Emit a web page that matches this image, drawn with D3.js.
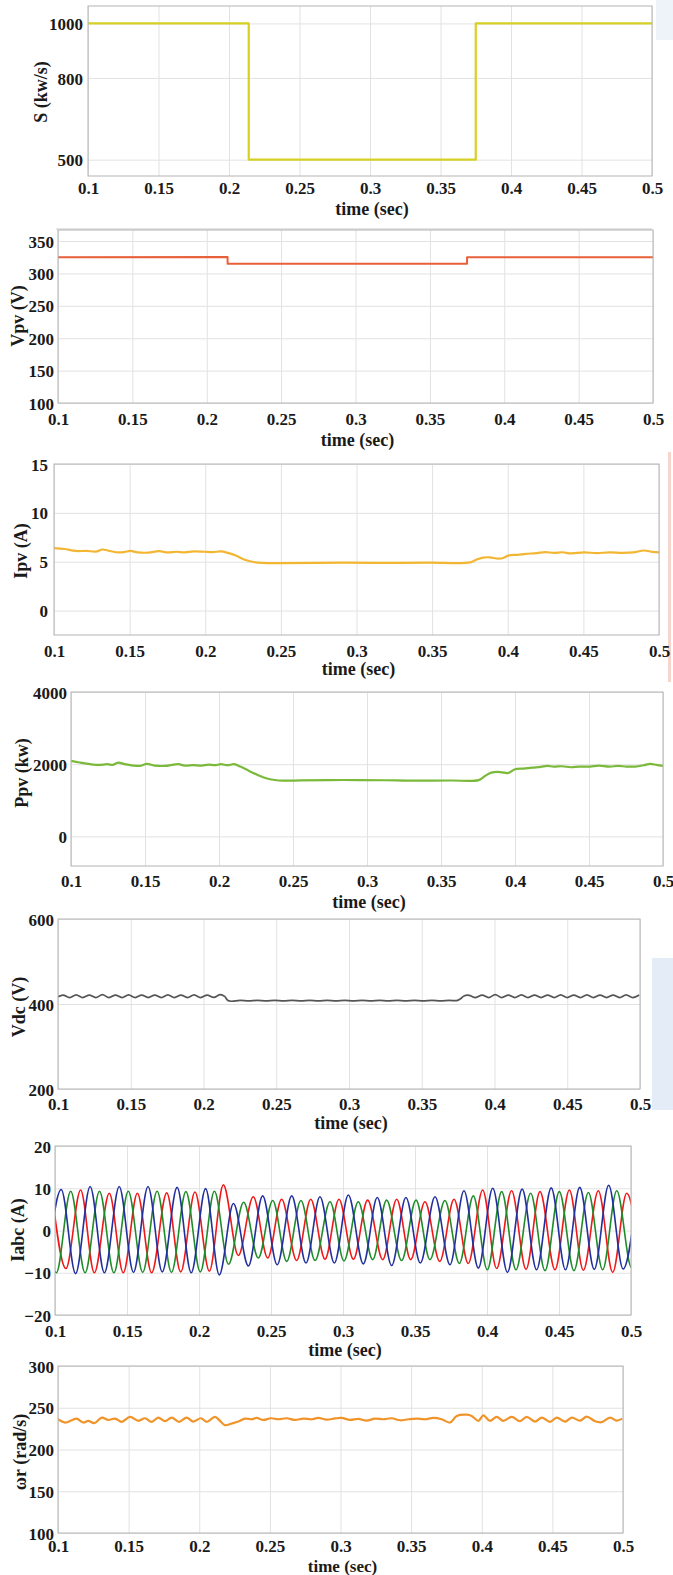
<!DOCTYPE html>
<html><head><meta charset="utf-8">
<script src="https://cdn.jsdelivr.net/npm/d3@7"></script>
<style>
body{margin:0;background:#fff;}
svg{display:block;}
text{font-family:"Liberation Serif","Times New Roman",serif;font-weight:bold;fill:#1a1a1a;}
</style></head><body>
<svg id="c" width="673" height="1575"></svg>
<script>
// ---------- DATA ----------
const xTickValues = [0.1,0.15,0.2,0.25,0.3,0.35,0.4,0.45,0.5];
const xTickLabels = ["0.1","0.15","0.2","0.25","0.3","0.35","0.4","0.45","0.5"];
const xLabel = "time (sec)";

const sTicks = [500,800,1000];
const vpvTicks = [100,150,200,250,300,350];
const ipvTicks = [0,5,10,15];
const ppvTicks = [0,2000,4000];
const vdcTicks = [200,400,600];
const iabcTicks = [-20,-10,0,10,20];
const wrTicks = [100,150,200,250,300];

const yLabels = ["S (kw/s)","Vpv (V)","Ipv (A)","Ppv (kw)","Vdc (V)","Iabc (A)","\u03c9r (rad/s)"];

const sData = [[0.1,1000],[0.214,1000],[0.214,500],[0.375,500],[0.375,1000],[0.5,1000]];
const vpvData = [[0.1,325],[0.214,325.3],[0.214,315],[0.375,315],[0.375,325],[0.5,325]];
const ipvData = [[0.1,6.4],[0.107,6.3],[0.1142,6.1],[0.1213,6.1],[0.1284,6.05],[0.1318,6.25],[0.1369,6.1],[0.1426,5.95],[0.1468,6.0],[0.1505,6.1],[0.1553,5.95],[0.1624,5.93],[0.1695,6.08],[0.1752,5.95],[0.1809,6.02],[0.1865,5.95],[0.1922,6.05],[0.1993,6.02],[0.205,5.98],[0.2106,6.05],[0.2149,5.9],[0.2206,5.6],[0.2262,5.2],[0.2319,4.97],[0.2376,4.88],[0.2489,4.85],[0.2915,4.9],[0.3199,4.88],[0.3482,4.9],[0.3752,4.93],[0.3794,5.22],[0.3837,5.42],[0.388,5.45],[0.3936,5.32],[0.397,5.38],[0.4007,5.65],[0.4064,5.7],[0.412,5.8],[0.4191,5.88],[0.4248,5.98],[0.4305,5.9],[0.4362,5.97],[0.4418,5.85],[0.4504,5.95],[0.4589,5.88],[0.4674,5.95],[0.4759,5.9],[0.483,5.95],[0.4901,6.15],[0.4957,6.0],[0.5,5.95]];
const ppvData = [[0.1,2090],[0.1058,2046],[0.113,2000],[0.1188,1980],[0.1246,2000],[0.1281,1980],[0.1319,2046],[0.1362,2000],[0.142,1962],[0.1464,1953],[0.1513,2009],[0.1565,1962],[0.1638,1953],[0.1681,1980],[0.1725,2000],[0.1768,1962],[0.1826,1972],[0.1884,1962],[0.1928,1990],[0.1971,1972],[0.2014,2000],[0.2058,1972],[0.2101,2000],[0.2145,1934],[0.2203,1813],[0.2261,1702],[0.2319,1609],[0.2377,1562],[0.2435,1545],[0.2551,1550],[0.2841,1562],[0.313,1555],[0.3275,1545],[0.3565,1548],[0.3754,1560],[0.3797,1674],[0.384,1767],[0.3884,1785],[0.3928,1767],[0.3957,1758],[0.4,1860],[0.4058,1879],[0.4116,1906],[0.4174,1925],[0.4217,1953],[0.4261,1934],[0.4319,1943],[0.4377,1916],[0.4435,1934],[0.4507,1934],[0.4565,1962],[0.4638,1934],[0.4696,1953],[0.4754,1934],[0.4812,1934],[0.487,1972],[0.4913,2009],[0.4957,1980],[0.5,1953]];
const vdcData = [[0.1,417],[0.1035,421],[0.108,415],[0.1125,421.5],[0.117,415],[0.1215,421],[0.126,415],[0.1305,422],[0.135,415],[0.1395,421],[0.144,415],[0.1485,421.5],[0.153,415],[0.1575,421],[0.162,415],[0.1665,421],[0.171,415],[0.1755,421.5],[0.18,415],[0.1845,421],[0.189,415],[0.1935,421.5],[0.198,415],[0.2025,421],[0.207,415.5],[0.2115,422],[0.2145,418],[0.2165,409],[0.219,406.5],[0.225,408.5],[0.231,407.5],[0.237,408.5],[0.243,407.5],[0.249,408.5],[0.255,407.5],[0.261,408.5],[0.267,407.5],[0.273,408.5],[0.279,407.5],[0.285,408.5],[0.291,407.5],[0.297,408.5],[0.303,407.5],[0.309,408.5],[0.315,407.5],[0.321,408.5],[0.327,407.5],[0.333,408.5],[0.339,407.5],[0.345,408.5],[0.351,407.5],[0.357,408.5],[0.363,407.5],[0.369,408.5],[0.374,408],[0.3765,412],[0.379,419],[0.3825,420.5],[0.387,415],[0.3915,421],[0.396,415],[0.4005,422],[0.405,415],[0.4095,421],[0.414,415],[0.4185,421.5],[0.423,415],[0.4275,421],[0.432,415],[0.4365,421],[0.441,415],[0.4455,421.5],[0.45,415],[0.4545,421],[0.459,415],[0.4635,421.5],[0.468,415],[0.4725,421],[0.477,415],[0.4815,421],[0.486,415],[0.4905,421.5],[0.495,415],[0.4995,421]];
const iaRed = [[0.0978,9.0],[0.1076,-9.0],[0.1178,9.6],[0.1273,-10.0],[0.1377,8.8],[0.1474,-10.0],[0.1572,8.8],[0.1671,-10.0],[0.1776,8.9],[0.1873,-9.8],[0.1972,9.1],[0.2072,-9.6],[0.2169,10.8],[0.2273,-5.9],[0.2377,8.0],[0.2477,-6.5],[0.2574,7.4],[0.2678,-7.1],[0.2776,7.4],[0.2875,-6.8],[0.2972,7.4],[0.3072,-6.8],[0.3171,7.2],[0.3276,-6.9],[0.3373,7.4],[0.347,-6.9],[0.3569,6.8],[0.3672,-7.3],[0.3771,7.4],[0.387,-7.8],[0.397,9.6],[0.4067,-9.0],[0.4171,9.4],[0.4271,-9.2],[0.4368,9.2],[0.4472,-9.3],[0.4572,9.6],[0.4669,-9.4],[0.4773,9.4],[0.4873,-9.9],[0.497,8.8],[0.5072,-9.0]];
const iaGreen = [[0.0909,9.3],[0.1009,-10.0],[0.1109,9.3],[0.1209,-10.0],[0.1309,9.3],[0.1409,-10.0],[0.1509,9.3],[0.1609,-9.9],[0.1709,9.3],[0.1809,-9.9],[0.1909,9.2],[0.2009,-9.8],[0.2107,9.3],[0.2205,-8.0],[0.231,6.7],[0.2412,-6.5],[0.2512,7.1],[0.2609,-7.3],[0.2708,7.1],[0.2806,-7.1],[0.291,6.8],[0.3007,-7.2],[0.3106,6.8],[0.3206,-6.9],[0.3303,7.2],[0.3407,-7.1],[0.3507,7.2],[0.3604,-6.9],[0.3708,7.1],[0.3808,-7.8],[0.3905,8.2],[0.4002,-9.3],[0.4102,9.2],[0.4201,-9.3],[0.4303,8.8],[0.4403,-9.5],[0.4502,9.2],[0.4604,-9.5],[0.4704,9.0],[0.4803,-9.3],[0.4901,9.4],[0.5004,-8.8],[0.5104,9.0]];
const iaBlue = [[0.0943,-9.5],[0.1043,9.7],[0.1143,-10.2],[0.1244,10.4],[0.1343,-10.0],[0.1446,10.4],[0.1545,-9.9],[0.1646,10.4],[0.1745,-9.8],[0.1848,10.2],[0.1946,-10.0],[0.2046,9.9],[0.2141,-10.5],[0.2239,6.4],[0.2343,-8.4],[0.2442,8.2],[0.2543,-8.1],[0.2644,8.2],[0.2743,-7.7],[0.284,8.0],[0.294,-7.7],[0.3037,8.4],[0.3141,-7.9],[0.3238,7.8],[0.3338,-8.3],[0.3437,7.8],[0.3537,-7.7],[0.3639,8.0],[0.3743,-8.1],[0.384,9.4],[0.394,-8.9],[0.404,10.0],[0.4142,-9.9],[0.4244,9.8],[0.4344,-9.3],[0.4446,10.1],[0.4545,-9.3],[0.4644,10.2],[0.4745,-9.2],[0.4845,10.7],[0.4945,-9.1],[0.5045,9.5]];
const wrData = [[0.1,236.2],[0.105,232.3],[0.1097,235],[0.1132,237],[0.1179,232.3],[0.1215,234.3],[0.1257,231.5],[0.1309,238.2],[0.1356,235.4],[0.1404,237],[0.1451,233.1],[0.151,239],[0.1569,234.3],[0.1616,237.4],[0.1663,233.1],[0.171,238.2],[0.1758,233.9],[0.1805,238.2],[0.1857,233.1],[0.1911,238.2],[0.1958,233.5],[0.2012,237.4],[0.2053,233.1],[0.2111,239],[0.2147,234.3],[0.2182,229.1],[0.223,231.1],[0.2277,233.5],[0.2324,237],[0.2371,236.2],[0.2407,237.8],[0.2454,235.4],[0.2508,237.4],[0.256,236.2],[0.2619,237.4],[0.2678,235.4],[0.2737,237],[0.2796,236.2],[0.2843,237.8],[0.2902,235.8],[0.2961,237.2],[0.3008,237.8],[0.3067,235.4],[0.3126,236.6],[0.3185,234.6],[0.3244,237],[0.3303,236.2],[0.3362,237.4],[0.3421,235],[0.348,236.2],[0.3539,237],[0.3598,236.2],[0.3657,237.8],[0.3716,236.2],[0.3775,232.3],[0.3823,240.2],[0.3893,241.7],[0.3929,240.2],[0.3976,234.3],[0.4011,240.9],[0.4058,234.3],[0.4106,239],[0.4153,234.3],[0.4212,239],[0.4271,233.9],[0.4318,239],[0.4377,233.5],[0.4425,238.2],[0.4483,233.1],[0.4531,238.2],[0.459,233.5],[0.4637,238.2],[0.4696,234.6],[0.4743,239.4],[0.4802,233.9],[0.4849,232.7],[0.4908,238.2],[0.4955,234.6],[0.4995,237]];

// ---------- LAYOUT ----------
const svg = d3.select("#c");
const FONT = '"Liberation Serif","Times New Roman",serif';

// faint background artefacts of the source figure
svg.append("rect").attr("x",652).attr("y",958).attr("width",21).attr("height",152).attr("fill","#e4ecf7");
svg.append("rect").attr("x",656).attr("y",0).attr("width",17).attr("height",40).attr("fill","#eef3fa");
svg.append("rect").attr("x",668).attr("y",452).attr("width",3).attr("height",230).attr("fill","#f6d6cc");

const panels = [
 {L:88,R:652,T:6,B:176,dom:[440,1064],ticks:sTicks,lab:0,tlY:194,timeY:215,ylx:41,yly:92,gap:5,
  series:[{d:sData,c:"#d6d024",w:2.2,curve:d3.curveLinear}]},
 {L:58,R:653,T:230,B:403,dom:[100,367],ticks:vpvTicks,lab:1,tlY:425,timeY:446,ylx:18,yly:316,gap:4,
  series:[{d:vpvData,c:"#e8603a",w:2,curve:d3.curveLinear}]},
 {L:54,R:659,T:464,B:635,dom:[-2.5,15],ticks:ipvTicks,lab:2,tlY:657,timeY:675,ylx:21,yly:551,gap:6,
  series:[{d:ipvData,c:"#f2b632",w:2.2,curve:d3.curveCatmullRom.alpha(0.5)}]},
 {L:71,R:663,T:692,B:866,dom:[-820,4000],ticks:ppvTicks,lab:3,tlY:887,timeY:908,ylx:22,yly:773,gap:4,
  series:[{d:ppvData,c:"#7bb93a",w:2.2,curve:d3.curveCatmullRom.alpha(0.5)}]},
 {L:58,R:640,T:919,B:1089,dom:[200,600],ticks:vdcTicks,lab:4,tlY:1110,timeY:1129,ylx:19,yly:1007,gap:4,
  series:[{d:vdcData,c:"#555555",w:1.7,curve:d3.curveCatmullRom.alpha(0.5)}]},
 {L:55,R:631,T:1146,B:1315,dom:[-20,20],ticks:iabcTicks,lab:5,tlY:1337,timeY:1356,ylx:18,yly:1230,gap:4,
  series:[{d:iaRed,c:"#f01818",w:1.6,curve:d3.curveMonotoneX},
          {d:iaGreen,c:"#1f8c2a",w:1.6,curve:d3.curveMonotoneX},
          {d:iaBlue,c:"#22309e",w:1.6,curve:d3.curveMonotoneX}]},
 {L:58,R:623,T:1366,B:1533,dom:[100,300],ticks:wrTicks,lab:6,tlY:1552,timeY:1572,ylx:20,yly:1452,gap:4,
  series:[{d:wrData,c:"#f0942a",w:2.2,curve:d3.curveCatmullRom.alpha(0.5)}]}
];

// thin rule under the first panel
svg.append("line").attr("x1",56).attr("x2",652).attr("y1",229).attr("y2",229).attr("stroke","#c8c8c8").attr("stroke-width",1);

panels.forEach((p,i)=>{
  const x = d3.scaleLinear().domain([0.1,0.5]).range([p.L,p.R]);
  const y = d3.scaleLinear().domain(p.dom).range([p.B,p.T]);
  const g = svg.append("g");
  const W = p.R-p.L, H = p.B-p.T;

  // grid
  g.append("g").attr("transform",`translate(0,${p.B})`)
    .call(d3.axisBottom(x).tickValues(xTickValues).tickSize(-H).tickFormat(""))
    .call(s=>{s.select(".domain").remove();s.selectAll("line").attr("stroke","#e2e2e2");});
  g.append("g").attr("transform",`translate(${p.L},0)`)
    .call(d3.axisLeft(y).tickValues(p.ticks).tickSize(-W).tickFormat(""))
    .call(s=>{s.select(".domain").remove();s.selectAll("line").attr("stroke","#e2e2e2");});

  // lines
  const cid = "clip"+i;
  svg.append("clipPath").attr("id",cid).append("rect").attr("x",p.L).attr("y",p.T).attr("width",W).attr("height",H);
  const lg = g.append("g").attr("clip-path",`url(#${cid})`);
  p.series.forEach(s=>{
    const line = d3.line().x(d=>x(d[0])).y(d=>y(d[1])).curve(s.curve);
    lg.append("path").attr("d",line(s.d)).attr("fill","none").attr("stroke",s.c)
      .attr("stroke-width",s.w).attr("stroke-linejoin","round");
  });

  // frame
  g.append("rect").attr("x",p.L).attr("y",p.T).attr("width",W).attr("height",H)
    .attr("fill","none").attr("stroke","#b4b4b4").attr("stroke-width",1);

  // x tick labels
  g.append("g").attr("transform",`translate(0,${p.tlY})`)
    .call(d3.axisBottom(x).tickValues(xTickValues).tickSize(0).tickPadding(0)
      .tickFormat((d,k)=>xTickLabels[k]))
    .call(s=>{s.select(".domain").remove();s.attr("font-family",FONT).attr("font-size",17);
      s.selectAll("text").attr("y",0).attr("dy",0).attr("fill","#1a1a1a")
       .style("font-family",FONT).style("font-weight","bold").style("font-size","17px");});
  // y tick labels
  g.append("g").attr("transform",`translate(${p.L-p.gap},0)`)
    .call(d3.axisLeft(y).tickValues(p.ticks).tickSize(0).tickPadding(0).tickFormat(d3.format("d")))
    .call(s=>{s.select(".domain").remove();s.attr("font-family",FONT).attr("font-size",17);
      s.selectAll("text").attr("x",0).attr("dy","0.36em").attr("fill","#1a1a1a")
       .style("font-family",FONT).style("font-weight","bold").style("font-size","17px");});

  // axis titles
  g.append("text").attr("x",(p.L+p.R)/2+2).attr("y",p.timeY).attr("text-anchor","middle")
    .style("font-size", i===6 ? "17px" : "18px").text(xLabel);
  g.append("text").attr("transform",`translate(${p.ylx+6},${p.yly}) rotate(-90)`).attr("text-anchor","middle")
    .style("font-size","18px").text(yLabels[p.lab]);
});
</script>
</body></html>
